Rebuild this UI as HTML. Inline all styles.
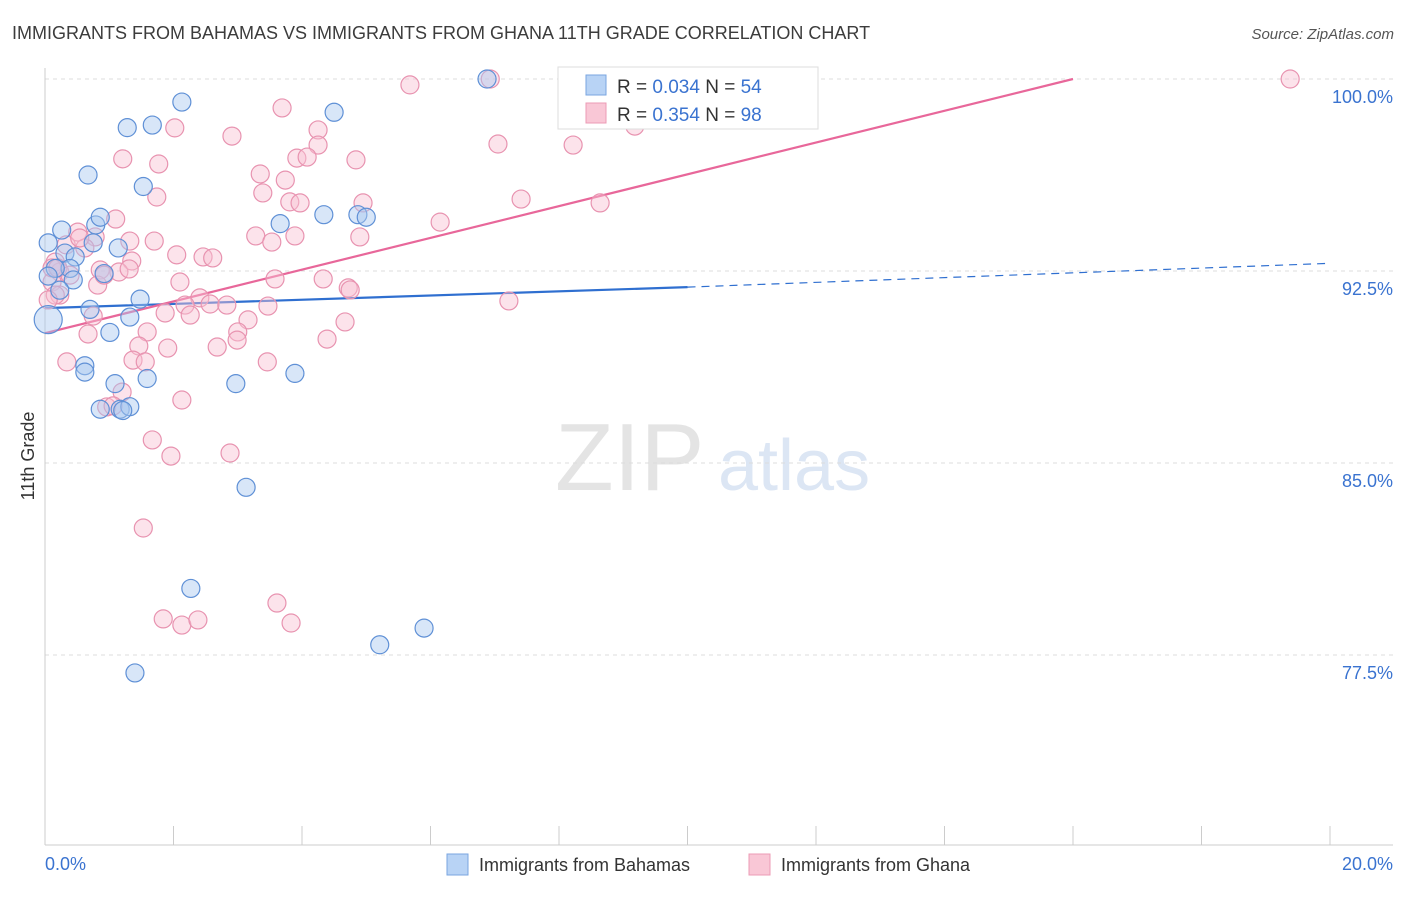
<!DOCTYPE html>
<html><head><meta charset="utf-8"><style>
body{margin:0;background:#fff;font-family:"Liberation Sans",sans-serif;}
svg text{font-family:"Liberation Sans",sans-serif;}
</style></head><body>
<svg id="chart" width="1406" height="892" xmlns="http://www.w3.org/2000/svg">
<text x="12" y="39" font-size="18" fill="#3c3c3c">IMMIGRANTS FROM BAHAMAS VS IMMIGRANTS FROM GHANA 11TH GRADE CORRELATION CHART</text>
<text x="1394" y="39" font-size="15" fill="#555" text-anchor="end" font-style="italic">Source: ZipAtlas.com</text>
<text x="555" y="490" font-size="96" fill="#e4e4e4" font-family="Liberation Serif">ZIP</text>
<text x="718" y="490" font-size="72" fill="#dce6f4">atlas</text>
<g id="grid"></g>
<g id="axes"></g>
<g id="lines"></g>
<g id="points"></g>
<text transform="translate(34,456) rotate(-90)" font-size="18" fill="#333" text-anchor="middle">11th Grade</text>
<g>
<rect x="558" y="67" width="260" height="62" fill="#fff" stroke="#ddd"/>
<rect x="586" y="75" width="20" height="20" fill="#b8d3f5" stroke="#7aa6e0"/>
<rect x="586" y="103" width="20" height="20" fill="#f9c7d6" stroke="#ec9bb5"/>
<text x="617" y="93" font-size="19" fill="#333">R = <tspan fill="#3a73d0">0.034</tspan>   N = <tspan fill="#3a73d0">54</tspan></text>
<text x="617" y="121" font-size="19" fill="#333">R = <tspan fill="#3a73d0">0.354</tspan>   N = <tspan fill="#3a73d0">98</tspan></text>
</g>
<g>
<rect x="447" y="854" width="21" height="21" fill="#b8d3f5" stroke="#7aa6e0"/>
<text x="479" y="871" font-size="18" fill="#333">Immigrants from Bahamas</text>
<rect x="749" y="854" width="21" height="21" fill="#f9c7d6" stroke="#ec9bb5"/>
<text x="781" y="871" font-size="18" fill="#333">Immigrants from Ghana</text>
</g>
</svg>
<script>
const xTicks=[0,2,4,6,8,10,12,14,16,18,20];
const yTicks=[100,92.5,85,77.5];
const yTickLabels=["100.0%","92.5%","85.0%","77.5%"];
const xTickLabels=["0.0%","20.0%"];
const bahamasX=[0.05,0.26,0.67,0.79,0.86,1.28,1.67,2.13,1.53,1.14,0.75,0.31,0.47,0.39,0.16,0.05,0.44,0.23,0.70,1.32,1.01,1.48,0.62,0.62,1.09,1.59,0.86,1.17,1.32,1.21,2.97,3.89,3.13,2.27,1.40,5.21,5.90,3.66,4.34,4.87,5.00,4.50,6.88,0.92];
const bahamasY=[93.6,94.1,96.25,94.3,94.6,98.1,98.2,99.1,95.8,93.4,93.6,93.2,93.05,92.6,92.6,92.3,92.15,91.75,91.0,90.7,90.1,91.4,88.8,88.55,88.1,88.3,87.1,87.1,87.2,87.05,88.1,88.5,84.05,80.1,76.8,77.9,78.55,94.35,94.7,94.7,94.6,98.7,100.0,92.4];
const ghanaX=[5.68,6.93,19.38,3.69,2.02,4.25,2.91,4.25,3.92,4.08,4.84,1.21,1.77,7.05,8.22,9.18,3.35,3.74,3.39,1.74,3.81,3.97,4.95,7.41,8.64,6.15,1.10,0.51,0.78,1.32,1.70,3.28,3.89,3.53,4.90,0.33,0.62,2.05,2.46,2.61,1.35,1.15,0.86,0.16,0.23,0.11,0.23,0.82,2.10,3.58,4.33,4.72,4.75,2.41,2.18,2.57,2.83,3.47,7.22,1.87,2.26,3.16,0.75,1.59,3.00,2.99,2.68,1.91,1.46,1.37,1.56,4.39,4.67,0.67,0.34,3.46,1.20,2.13,0.96,1.06,1.67,1.96,2.88,1.53,1.84,2.13,2.38,3.61,3.83,0.16,0.11,0.05,0.20,0.54,0.39,0.92,1.31];
const ghanaY=[99.77,100,100,98.87,98.09,98.01,97.77,97.42,96.91,96.95,96.84,96.88,96.68,97.46,97.42,98.16,96.29,96.05,95.55,95.39,95.2,95.16,95.16,95.31,95.16,94.41,94.53,94.02,93.83,93.67,93.67,93.87,93.87,93.63,93.83,93.52,93.4,93.13,93.05,93.01,92.89,92.46,92.54,92.85,92.46,92.07,91.56,91.95,92.07,92.19,92.19,91.84,91.76,91.45,91.17,91.21,91.17,91.13,91.33,90.86,90.78,90.59,90.74,90.12,90.12,89.8,89.53,89.49,89.57,89.02,88.95,89.84,90.51,90.04,88.95,88.95,87.77,87.46,87.19,87.23,85.9,85.27,85.39,82.46,78.91,78.67,78.87,79.53,78.75,91.56,92.62,91.37,92.62,93.79,92.34,92.34,92.58];
const blueTrend=[[0,91.05],[10,91.87],[20,92.8]];
const pinkTrend=[[0,90.07],[16,100]];
const NS="http://www.w3.org/2000/svg";
const X0=45,X1=1330,Y0=79,PX=25.6;
const sx=v=>X0+(v-0)/20*(X1-X0);
const sy=v=>Y0+(100-v)*PX;
function mk(tag,attrs,parent){const e=document.createElementNS(NS,tag);for(const k in attrs)e.setAttribute(k,attrs[k]);parent.appendChild(e);return e;}
const grid=document.getElementById('grid'),axes=document.getElementById('axes'),lines=document.getElementById('lines'),pts=document.getElementById('points');
yTicks.forEach((t,i)=>{
 const l=mk('line',{x1:45,x2:1393,y1:sy(t),y2:sy(t),stroke:'#dcdcdc','stroke-dasharray':'4,4'},grid);
 
 
 const tx=mk('text',{x:1393,y:sy(t)+24,'font-size':18,fill:'#3a73d0','text-anchor':'end'},axes);
 tx.textContent=yTickLabels[i];
 
 
});
const ax=mk('line',{x1:45,x2:1393,y1:845,y2:845,stroke:'#ccc'},axes);


const ay=mk('line',{x1:45,x2:45,y1:68,y2:845,stroke:'#ccc'},axes);


xTicks.forEach(t=>{
 const l=mk('line',{x1:sx(t),x2:sx(t),y1:826,y2:845,stroke:'#ccc'},axes);
 
 
});
const xl0=mk('text',{x:45,y:870,'font-size':18,fill:'#3a73d0'},axes);xl0.textContent=xTickLabels[0];


const xl1=mk('text',{x:1393,y:870,'font-size':18,fill:'#3a73d0','text-anchor':'end'},axes);xl1.textContent=xTickLabels[1];


function dot(x,y,fill,stroke,name,r){const c=mk('circle',{cx:sx(x),cy:sy(y),r:r||9,fill:fill,'fill-opacity':0.45,stroke:stroke,'stroke-width':1.2},pts);
 
 }
ghanaX.forEach((x,i)=>dot(x,ghanaY[i],'#f9c0d2','#e893b0','point-ghana'));
bahamasX.forEach((x,i)=>dot(x,bahamasY[i],'#a9c8f0','#5f90d6','point-bahamas'));
dot(0.05,90.6,'#a9c8f0','#5f90d6','point-bahamas-large',14);
const b1=mk('line',{x1:sx(blueTrend[0][0]),y1:sy(blueTrend[0][1]),x2:sx(blueTrend[1][0]),y2:sy(blueTrend[1][1]),stroke:'#2f6fd0','stroke-width':2.2},lines);


const b2=mk('line',{x1:sx(blueTrend[1][0]),y1:sy(blueTrend[1][1]),x2:sx(blueTrend[2][0]),y2:sy(blueTrend[2][1]),stroke:'#2f6fd0','stroke-width':1.2,'stroke-dasharray':'8,6'},lines);


const p1=mk('line',{x1:sx(pinkTrend[0][0]),y1:sy(pinkTrend[0][1]),x2:sx(pinkTrend[1][0]),y2:sy(pinkTrend[1][1]),stroke:'#e8679a','stroke-width':2.2},lines);


</script>
</body></html>
